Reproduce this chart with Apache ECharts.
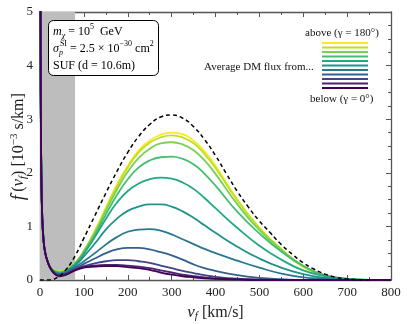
<!DOCTYPE html>
<html>
<head>
<meta charset="utf-8">
<script src="https://cdn.jsdelivr.net/npm/echarts@6/dist/echarts.min.js"></script>
<style>
html, body { margin: 0; padding: 0; background: #fff; }
#chart { width: 407px; height: 324px; }
</style>
</head>
<body>
<div id="chart"></div>
<script>
// velocity grid (km/s) shared by all the coloured curves
var vGrid = [0.6, 1, 1.5, 2, 3, 5, 8, 12, 18, 25, 35, 45, 60, 80, 100, 125, 150, 175, 200, 225, 250, 275, 300, 325, 350, 375, 400, 450, 500, 550, 600, 650, 700, 750, 800];
var lowPart = [10, 6, 4, 3, 2, 1.2, 0.75, 0.5, 0.33];

// f(v) in 1e-3 s/km, one row per gamma from below (0 deg) to above (180 deg)
var g0  = [0.2, 0.1, 0.07, 0.1, 0.18, 0.23, 0.25, 0.26, 0.26, 0.24, 0.22, 0.19, 0.14, 0.1, 0.07, 0.05, 0.03, 0.02, 0.01, 0, 0, 0, 0, 0, 0, 0];
var g1  = [0.2, 0.11, 0.08, 0.11, 0.19, 0.24, 0.27, 0.28, 0.28, 0.27, 0.25, 0.22, 0.18, 0.14, 0.1, 0.07, 0.05, 0.03, 0.01, 0, 0, 0, 0, 0, 0, 0];
var g2  = [0.21, 0.12, 0.09, 0.12, 0.2, 0.26, 0.31, 0.35, 0.37, 0.37, 0.35, 0.32, 0.27, 0.22, 0.17, 0.13, 0.09, 0.06, 0.025, 0.01, 0, 0, 0, 0, 0, 0];
var g3  = [0.21, 0.12, 0.1, 0.13, 0.21, 0.3, 0.4, 0.5, 0.57, 0.6, 0.6, 0.57, 0.52, 0.46, 0.38, 0.29, 0.22, 0.17, 0.09, 0.04, 0.015, 0, 0, 0, 0, 0];
var g4  = [0.21, 0.13, 0.11, 0.15, 0.24, 0.35, 0.5, 0.66, 0.8, 0.9, 0.94, 0.95, 0.92, 0.85, 0.76, 0.67, 0.58, 0.5, 0.36, 0.23, 0.12, 0.05, 0.02, 0, 0, 0];
var g5  = [0.21, 0.14, 0.12, 0.16, 0.27, 0.44, 0.68, 0.94, 1.14, 1.29, 1.37, 1.41, 1.41, 1.37, 1.28, 1.16, 1.02, 0.88, 0.62, 0.4, 0.23, 0.11, 0.04, 0.01, 0, 0];
var g6  = [0.21, 0.15, 0.13, 0.17, 0.29, 0.49, 0.8, 1.14, 1.44, 1.66, 1.8, 1.88, 1.91, 1.89, 1.82, 1.7, 1.53, 1.34, 0.97, 0.64, 0.38, 0.18, 0.07, 0.02, 0, 0];
var g7  = [0.22, 0.16, 0.14, 0.18, 0.3, 0.51, 0.84, 1.22, 1.58, 1.88, 2.1, 2.23, 2.29, 2.3, 2.26, 2.16, 1.98, 1.76, 1.27, 0.87, 0.53, 0.26, 0.09, 0.02, 0, 0];
var g8  = [0.22, 0.17, 0.15, 0.19, 0.31, 0.53, 0.88, 1.29, 1.68, 2.02, 2.28, 2.45, 2.55, 2.57, 2.53, 2.42, 2.23, 1.98, 1.41, 0.93, 0.56, 0.26, 0.09, 0.02, 0, 0];
var g9  = [0.22, 0.17, 0.15, 0.2, 0.32, 0.54, 0.9, 1.32, 1.74, 2.1, 2.38, 2.56, 2.66, 2.7, 2.66, 2.55, 2.35, 2.09, 1.48, 0.97, 0.58, 0.26, 0.08, 0.02, 0, 0];
var g10 = [0.22, 0.18, 0.16, 0.2, 0.32, 0.55, 0.92, 1.35, 1.78, 2.13, 2.42, 2.6, 2.71, 2.75, 2.72, 2.6, 2.4, 2.13, 1.5, 0.98, 0.57, 0.24, 0.07, 0.01, 0, 0];

// free (no earth-scattering) distribution, dashed
var freeV = [0, 20, 40, 60, 80, 100, 125, 150, 175, 200, 225, 250, 275, 300, 325, 350, 375, 400, 425, 450, 475, 500, 525, 550, 575, 600, 625, 650, 675, 700, 725, 750];
var freeF = [0, 0, 0.05, 0.2, 0.45, 0.78, 1.2, 1.62, 2.02, 2.38, 2.68, 2.9, 3.04, 3.08, 3.02, 2.86, 2.62, 2.32, 1.98, 1.65, 1.36, 1.1, 0.88, 0.66, 0.48, 0.32, 0.2, 0.11, 0.05, 0.02, 0.005, 0];

var shadeRange = [0, 80];
var xTicks = [0, 800, 100];
var yTicks = [0, 5, 1];

var curves = [g0, g1, g2, g3, g4, g5, g6, g7, g8, g9, g10];
var viridis = ['#440154', '#482475', '#414487', '#355f8d', '#2a788e', '#21918c', '#22a884', '#44bf70', '#7ad151', '#bddf26', '#fde725'];

var serif = 'Liberation Serif';
var axisCol = '#555';

var chart = echarts.init(document.getElementById('chart'), null, { renderer: 'canvas' });

var series = [];
series.push({
  type: 'line', data: [], z: 1, silent: true,
  markArea: {
    silent: true,
    itemStyle: { color: '#bdbdbd' },
    data: [[{ xAxis: shadeRange[0] }, { xAxis: shadeRange[1] }]]
  }
});
// yellow first so purple ends on top
for (var k = curves.length - 1; k >= 0; k--) {
  var vals = lowPart.concat(curves[k]);
  series.push({
    name: 'g' + k,
    type: 'line',
    z: 2,
    showSymbol: false,
    smooth: 0.5,
    clip: true,
    data: vGrid.map(function (v, i) { return [v, vals[i]]; }),
    itemStyle: { color: viridis[k] },
    lineStyle: { color: viridis[k], width: 1.8 }
  });
}
series.push({
  name: 'free',
  type: 'line',
  z: 3,
  showSymbol: false,
  smooth: 0.5,
  data: freeV.map(function (v, i) { return [v, freeF[i]]; }),
  lineStyle: { color: '#000', width: 1.5, type: [4, 3] }
});

function frameAxis(pos, isX) {
  return {
    type: 'value',
    position: pos,
    min: isX ? xTicks[0] : yTicks[0],
    max: isX ? xTicks[1] : yTicks[1],
    interval: isX ? xTicks[2] : yTicks[2],
    axisLine: { show: true, onZero: false, lineStyle: { color: axisCol, width: 1.3 } },
    axisTick: { show: true, inside: true, length: 5, lineStyle: { color: axisCol, width: 1 } },
    minorTick: { show: true, splitNumber: isX ? 2 : 4, length: 3, lineStyle: { color: axisCol, width: 1 } },
    axisLabel: { show: false },
    splitLine: { show: false }
  };
}

var xMain = frameAxis('bottom', true);
xMain.axisLabel = { show: true, margin: 6, fontFamily: serif, fontSize: 13, color: '#222' };
xMain.name = '{i|v}{sub|f}{n| [km/s]}';
xMain.nameLocation = 'middle';
xMain.nameGap = 21;
xMain.nameTextStyle = {
  fontFamily: serif, fontSize: 16, color: '#222',
  rich: {
    i: { fontFamily: serif, fontStyle: 'italic', fontSize: 17, lineHeight: 19, color: '#222' },
    sub: { fontFamily: serif, fontStyle: 'italic', fontSize: 11, lineHeight: 11, verticalAlign: 'bottom', color: '#222' },
    n: { fontFamily: serif, fontSize: 16, lineHeight: 19, color: '#222' }
  }
};

var yMain = frameAxis('left', false);
yMain.axisLabel = { show: true, margin: 7, fontFamily: serif, fontSize: 13, color: '#222' };

// y axis title, drawn as rotated text
var yTitleRich = {
  fz: { fontFamily: serif, fontStyle: 'italic', fontSize: 18, lineHeight: 20, width: 2, fill: '#222' },
  tl: { fontFamily: serif, fontSize: 15, lineHeight: 14, verticalAlign: 'top', fill: '#222' },
  i: { fontFamily: serif, fontStyle: 'italic', fontSize: 17, lineHeight: 20, fill: '#222' },
  sub: { fontFamily: serif, fontStyle: 'italic', fontSize: 11, lineHeight: 11, verticalAlign: 'bottom', fill: '#222' },
  sup: { fontFamily: serif, fontSize: 11, lineHeight: 11, verticalAlign: 'top', fill: '#222' },
  n: { fontFamily: serif, fontSize: 16, lineHeight: 20, fill: '#222' }
};

var boxRich = {
  i: { fontFamily: serif, fontStyle: 'italic', fontWeight: 'normal', fontSize: 12, lineHeight: 17, color: '#000' },
  n: { fontFamily: serif, fontWeight: 'normal', fontSize: 12, lineHeight: 17, color: '#000' },
  sub: { fontFamily: serif, fontStyle: 'italic', fontWeight: 'normal', fontSize: 8, lineHeight: 10, verticalAlign: 'bottom', color: '#000' },
  // subscript that takes no width, so the next superscript sits over it
  subz: { fontFamily: serif, fontStyle: 'italic', fontWeight: 'normal', fontSize: 8, lineHeight: 10, width: 1, verticalAlign: 'bottom', color: '#000' },
  sup: { fontFamily: serif, fontWeight: 'normal', fontSize: 8, lineHeight: 10, verticalAlign: 'top', color: '#000' }
};

var noteStyle = { fontFamily: serif, fontSize: 11, fontWeight: 'normal', color: '#111' };

var option = {
  animation: false,
  backgroundColor: '#fff',
  grid: { left: 40, right: 16, top: 12, bottom: 44, outerBoundsMode: 'none', containLabel: false },
  title: [
    {
      text: '{i|m}{sub|\u03c7}{n| = 10}{sup|5}{n|  GeV}\n{i|\u03c3}{subz|p}{sup|SI}{n| = 2.5 \u00d7 10}{sup|\u221230}{n| cm}{sup|2}\n{n|SUF (d = 10.6m)}',
      left: 48, top: 20,
      padding: [3, 5, 4, 5],
      backgroundColor: '#fff',
      borderColor: '#000',
      borderWidth: 1,
      borderRadius: 5,
      textStyle: { fontWeight: 'normal', rich: boxRich }
    },
    { text: 'above (\u03b3 = 180\u00b0)', left: 305, top: 28, padding: 0, textStyle: noteStyle },
    { text: 'Average DM flux from...', left: 204, top: 62, padding: 0, textStyle: noteStyle },
    { text: 'below (\u03b3 = 0\u00b0)', left: 310, top: 94, padding: 0, textStyle: noteStyle }
  ],
  graphic: [{
    type: 'text',
    x: 19, y: 146,
    rotation: Math.PI / 2,
    style: {
      text: '{fz|f}{tl|\u02dc}{n|(}{i|v}{sub|f}{n|) [10}{sup|\u22123}{n| s/km]}',
      align: 'center',
      verticalAlign: 'middle',
      fontFamily: serif,
      fontSize: 16,
      fill: '#222',
      rich: yTitleRich
    }
  }],
  legend: {
    orient: 'vertical',
    left: 322, top: 42,
    padding: 0,
    itemWidth: 46,
    itemHeight: 2,
    itemGap: 2.5,
    icon: 'rect',
    selectedMode: false,
    data: curves.map(function (c, i) { return 'g' + (curves.length - 1 - i); }),
    formatter: function () { return ''; },
    textStyle: { fontSize: 2, lineHeight: 2, padding: 0 }
  },
  xAxis: [xMain, frameAxis('top', true)],
  yAxis: [yMain, frameAxis('right', false)],
  series: series
};

chart.setOption(option);
</script>
</body>
</html>
